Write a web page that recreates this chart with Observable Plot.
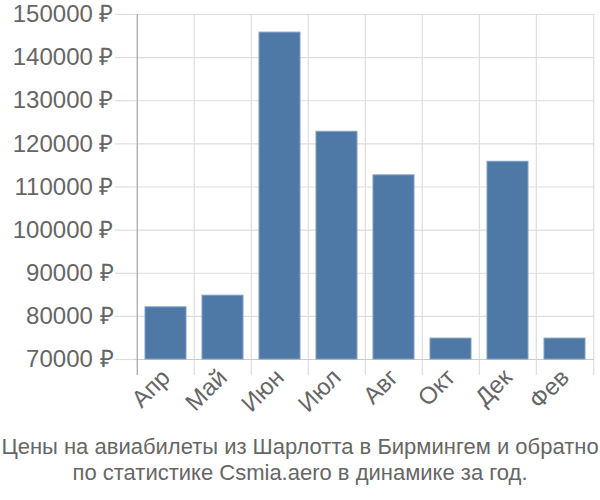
<!DOCTYPE html>
<html>
<head>
<meta charset="utf-8">
<script src="https://cdn.jsdelivr.net/npm/d3@7"></script>
<script src="https://cdn.jsdelivr.net/npm/@observablehq/plot@0.6"></script>
<style>
  html, body { margin: 0; padding: 0; background: #fff; }
  #chart { width: 600px; }
  .caption { font-family: "Liberation Sans", Arial, sans-serif; font-size: 22px; color: #666; text-align: center; line-height: 26px; margin-top: 14px; white-space: nowrap; }
</style>
</head>
<body>
<div id="chart"></div>
<script>
const months = ["Апр", "Май", "Июн", "Июл", "Авг", "Окт", "Дек", "Фев"];
const prices = [82100, 84800, 145800, 122800, 112700, 74850, 115850, 74850];
const yTicks = [70000, 80000, 90000, 100000, 110000, 120000, 130000, 140000, 150000];
const captionLines = [
  "Цены на авиабилеты из Шарлотта в Бирмингем и обратно",
  "по статистике Csmia.aero в динамике за год."
];

const data = months.map((m, i) => ({ month: m, price: prices[i] }));

const W = 600, H = 420;
const mL = 135, mR = 6, mT = 14, mB = 61;
const step = (W - mL - mR) / months.length;
const grid = "#dddddd";

const chart = Plot.plot({
  width: W,
  height: H,
  marginLeft: mL,
  marginRight: mR,
  marginTop: mT,
  marginBottom: mB,
  style: { fontFamily: "Liberation Sans, Arial, sans-serif", fontSize: "24px", color: "#666", background: "#fff", overflow: "visible" },
  x: { domain: months, paddingInner: 0.285, paddingOuter: 0.1425, label: null },
  y: { domain: [70000, 150000], label: null },
  marks: [
    Plot.gridY(yTicks, { stroke: grid, strokeOpacity: 1, strokeWidth: 1.2 }),
    Plot.axisY(yTicks, { tickSize: 20, tickPadding: 2, stroke: grid, strokeOpacity: 1, strokeWidth: 1.2, tickFormat: d => d + " ₽", fontSize: 24, fill: "#666" }),
    Plot.ruleX(months, { x: d => d, dx: -step / 2, stroke: grid, strokeWidth: 1.2, insetBottom: -16 }),
    Plot.ruleX([months[months.length - 1]], { x: d => d, dx: step / 2, stroke: grid, strokeWidth: 1.2, insetBottom: -16 }),
    Plot.ruleY([70000], { stroke: "#cccccc", strokeWidth: 1.2 }),
    Plot.ruleX([months[0]], { x: d => d, dx: -step / 2, stroke: "#aaaaaa", strokeWidth: 1.2, insetBottom: -16 }),
    Plot.barY(data, { x: "month", y1: 70000, y2: "price", fill: "#4e79a7", stroke: "#7f9fc4", strokeWidth: 1 }),
    Plot.axisX({ tickSize: 0, tickPadding: 14, tickRotate: -45, fontSize: 24, fill: "#666" })
  ]
});
document.getElementById("chart").appendChild(chart);

const cap = document.createElement("div");
cap.className = "caption";
cap.innerHTML = captionLines.join("<br>");
document.getElementById("chart").appendChild(cap);
</script>
</body>
</html>
